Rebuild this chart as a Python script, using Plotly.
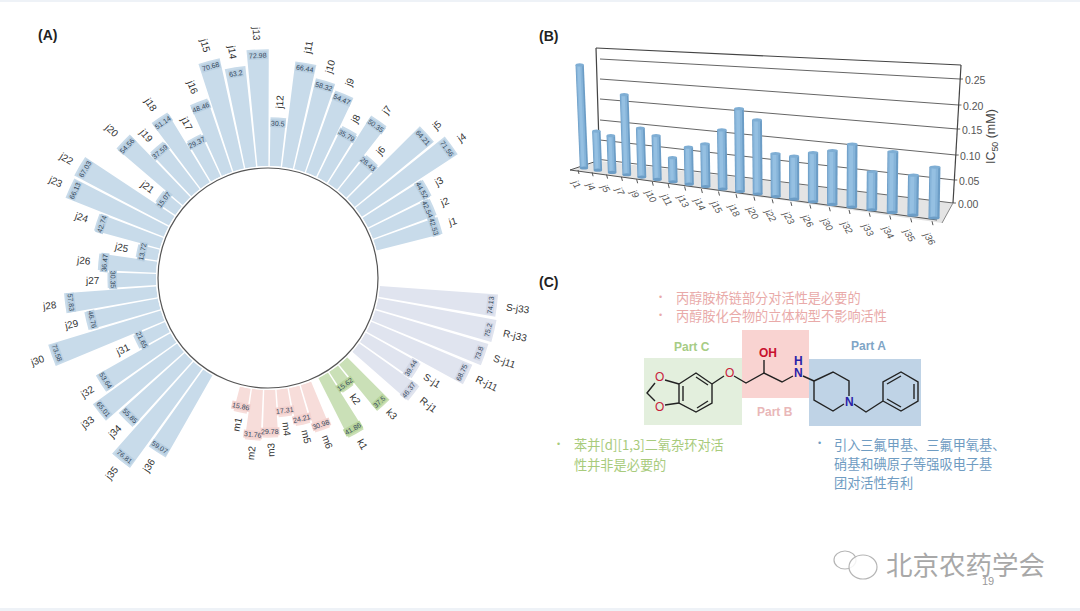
import math
import plotly.graph_objects as go

# ---------- Panel A data ----------
j_names = [f"j{i}" for i in range(1, 37)]
j_values = [42.53, 42.54, 44.52, 71.56, 64.21, 28.43, 50.35, 35.79, 54.47, 58.32, 66.44, 30.5,
            72.98, 63.2, 70.68, 48.46, 29.37, 51.14, 37.59, 54.56, 15.07, 67.03, 66.13, 42.74,
            13.72, 36.47, 30.35, 57.83, 46.76, 73.58, 21.65, 53.64, 65.01, 55.85, 76.81, 59.07]
m_names = ["m1", "m2", "m3", "m4", "m5", "m6"]
m_values = [15.86, 31.76, 29.78, 17.31, 24.21, 30.98]
k_names = ["k1", "k2", "k3"]
k_values = [41.86, 15.62, 37.5]
c_names = ["R-j1", "S-j1", "R-j11", "S-j11", "R-j33", "S-j33"]
c_values = [46.37, 39.44, 68.75, 73.8, 75.2, 74.13]

# ---------- Panel B data ----------
b_names = ["j1", "j4", "j5", "j7", "j9", "j10", "j11", "j13", "j14", "j15", "j18", "j20",
           "j22", "j23", "j26", "j30", "j32", "j33", "j34", "j35", "j36"]
b_values = [0.229, 0.086, 0.080, 0.172, 0.104, 0.092, 0.050, 0.076, 0.087, 0.119, 0.165, 0.146,
            0.084, 0.083, 0.094, 0.102, 0.118, 0.071, 0.112, 0.073, 0.092]
b_ticks = [0.00, 0.05, 0.10, 0.15, 0.20, 0.25]

FONT = "Liberation Sans"
CJK = "Noto Sans CJK SC"
W, H = 1080, 611
fig = go.Figure()
anns, shapes = [], []


def text(x, y, s, size=10, color="#333", angle=0, bg=None, family=FONT, anchor="center"):
    anns.append(dict(x=x, y=y, xref="x", yref="y", text=s, showarrow=False, textangle=angle,
                     xanchor=anchor, yanchor="middle", borderpad=0, bgcolor=bg,
                     font=dict(size=size, color=color, family=family)))


# ---------- Panel A: radial bars ----------
CX, CY, HOLE_PX, V0_PX, SCALE, R_PX = 268, 278, 110, 112, 1.6, 235
STEP, BAR_W = 6.3, 5.6
groups = [(j_names, j_values, "#C8DBEA", "#BAD0E2", 0),
          (m_names, m_values, "#F7DDDA", "#F3D2CF", 3.3),
          (k_names, k_values, "#CAE0B7", "#B9D59D", 1.55),
          (c_names, c_values, "#E0E4EF", "#D3D8E6", 1.5)]
theta = 73.0
for names, values, col, halo, gap in groups:
    theta -= gap * STEP
    thetas = []
    for i, (n, v) in enumerate(zip(names, values)):
        thetas.append(theta)
        th = math.radians(theta)
        ux, uy = math.sin(th), -math.cos(th)
        rend = V0_PX + SCALE * v
        # value label, tangential, at the bar end
        rot_v = ((theta + 90) % 180) - 90
        text(CX + ux * (rend - 6), CY + uy * (rend - 6), f"{v:g}", 7, "#33475B", rot_v, halo)
        # name label, radial, just outside the bar
        t360 = theta % 360
        rot_n = t360 - 90 if t360 < 175 else t360 - 270
        off = 7 + len(n) * 2.8
        text(CX + ux * (rend + off), CY + uy * (rend + off), n, 10, "#333333", rot_n)
        theta -= STEP
    fig.add_trace(go.Barpolar(r=values, theta=thetas, width=[BAR_W] * len(values),
                              marker=dict(color=col, line=dict(width=0)), hoverinfo="skip",
                              subplot="polar"))
    theta += STEP

shapes.append(dict(type="circle", xref="x", yref="y", x0=CX - HOLE_PX, x1=CX + HOLE_PX,
                   y0=CY - HOLE_PX, y1=CY + HOLE_PX, line=dict(color="#555555", width=1.2)))


# ---------- Panel B: pseudo 3D bars ----------
def line(xs, ys, color, width):
    fig.add_trace(go.Scatter(x=xs, y=ys, mode="lines", line=dict(color=color, width=width),
                             hoverinfo="skip", xaxis="x", yaxis="y"))


shapes.append(dict(type="path", path="M600,161 L953,203 L942,223 L570,170 Z", xref="x", yref="y",
                   fillcolor="#E4E4E4", line=dict(width=0), layer="below"))
grid_left = [159.5, 140, 120, 99, 79, 59]
grid_right = [203, 180, 155, 129, 105, 79]
for tv, yl, yr, in zip(b_ticks, grid_left, grid_right):
    xr = 953 + (yr - 203) / (79 - 203) * 7
    line([600, xr], [yl, yr], "#666666", 1)
    line([xr, xr + 3], [yr, yr], "#666666", 1)
    text(xr + 15, yr + 1, f"{tv:.2f}", 10.5, "#555555")
line([596, 961], [48, 65], "#444444", 1.2)
line([596, 599.5], [48, 160], "#444444", 1.2)
line([961, 953], [65, 203], "#444444", 1.2)
line([570, 937], [170, 220], "#555555", 1)
line([570, 600], [170, 160], "#555555", 1)
line([953, 942], [203, 223], "#888888", 1)

for i, (n, v) in enumerate(zip(b_names, b_values)):
    xb = 584 + 13.7 * i + 0.19 * i * i
    yb = 168 + 2.2 * i + 0.015 * i * i
    w = 8.3 + 0.14 * i
    h = v * (450 + 5.2 * i)
    xt = xb + (-0.042 + 0.003 * i) * h
    yt = yb - h
    shapes.append(dict(type="circle", xref="x", yref="y", x0=xb - w / 2, x1=xb + w / 2,
                       y0=yb - 1.6, y1=yb + 1.6, fillcolor="#6C9DC6", line=dict(width=0)))
    line([xb, xt], [yb, yt], "#6C9DC6", w)
    line([xb - 0.06 * w, xt - 0.06 * w], [yb, yt], "#86B4D9", 0.72 * w)
    line([xb - 0.1 * w, xt - 0.1 * w], [yb, yt], "#95C0E2", 0.36 * w)
    shapes.append(dict(type="circle", xref="x", yref="y", x0=xt - w / 2, x1=xt + w / 2,
                       y0=yt - 1.6, y1=yt + 1.6, fillcolor="#7FAED4", line=dict(width=0)))
    # tick + rotated label
    xf, yf = xb - 6 + 0.2 * i, yb + 5 + 0.06 * i
    line([xf, xf + 1], [yf - 3, yf + 1], "#555555", 1)
    lx = xb - 7.5 + 0.17 * i
    ly = yb + 15 + 0.25 * i
    text(lx, ly, f"<i>{n}</i>", 9.5, "#555555", 60)

text(992, 137, "IC<sub>50</sub> (mM)", 12.5, "#444444", -90)

# ---------- Panel letters ----------
text(47, 35, "<b>(A)</b>", 14, "#222222")
text(548, 36, "<b>(B)</b>", 14, "#222222")
text(548, 282, "<b>(C)</b>", 14, "#222222")

# ---------- Panel C: schematic ----------
for x0, x1, y0, y1, col in [(644, 742, 358, 425, "#E3EFDD"), (742, 809, 330, 398, "#F9D3D1"),
                            (809, 921, 359, 426, "#BFD3E6")]:
    shapes.append(dict(type="rect", xref="x", yref="y", x0=x0, x1=x1, y0=y0, y1=y1,
                       fillcolor=col, line=dict(width=0), layer="below"))

bonds = [
    # dioxole
    [(655, 383), (647, 393), (655, 401)], [(665, 380), (679, 384)], [(665, 405), (679, 403)],
    # benzene of benzodioxole
    [(679, 384), (696, 373), (712, 384), (712, 403), (696, 412), (679, 403), (679, 384)],
    [(683, 386), (683, 401)], [(696, 377), (708, 385)], [(697, 408), (708, 401)],
    # linker
    [(712, 384), (724, 376)], [(734, 376), (746, 383), (764, 373), (782, 382), (793, 376)],
    [(764, 373), (764, 360)], [(803, 376), (814, 381)],
    # piperidine
    [(814, 381), (833, 372), (849, 381), (849, 396)], [(844, 404), (833, 411), (814, 400), (814, 381)],
    [(854, 404), (866, 412), (883, 401)],
    # benzene
    [(883, 401), (883, 382), (901, 372), (918, 382), (918, 401), (901, 411), (883, 401)],
    [(887, 384), (901, 376)], [(914, 384), (914, 399)], [(887, 399), (901, 407)],
]
bx, by = [], []
for seg in bonds:
    bx += [p[0] for p in seg] + [None]
    by += [p[1] for p in seg] + [None]
fig.add_trace(go.Scatter(x=bx, y=by, mode="lines", line=dict(color="#222222", width=1.4),
                         hoverinfo="skip", xaxis="x", yaxis="y"))

RED, NAVY = "#C8213A", "#2A22A8"
for x, y, s, c in [(659, 377, "O", RED), (659, 407, "O", RED), (729, 373, "O", RED),
                   (768, 353, "<b>OH</b>", "#C8102E"), (798, 361, "<b>H</b>", NAVY),
                   (798, 373, "<b>N</b>", NAVY), (849, 402, "<b>N</b>", NAVY)]:
    text(x, y, s, 12, c)

text(692, 347, "<b>Part C</b>", 12, "#A6CC85")
text(775, 412, "<b>Part B</b>", 12, "#E9B7B8")
text(868, 346, "<b>Part A</b>", 12, "#7FA5C6")

PINK, GREEN, BLUE = "#E9AAA9", "#A8CB7C", "#6F9CC2"
for x, y, s, c in [(675, 297, "丙醇胺桥链部分对活性是必要的", PINK),
                   (675, 315, "丙醇胺化合物的立体构型不影响活性", PINK),
                   (573, 444, "苯并[d][1,3]二氧杂环对活", GREEN),
                   (573, 464, "性并非是必要的", GREEN),
                   (833, 444, "引入三氟甲基、三氟甲氧基、", BLUE),
                   (833, 463, "硝基和碘原子等强吸电子基", BLUE),
                   (833, 482, "团对活性有利", BLUE)]:
    text(x, y, s, 13.2, c, family=CJK, anchor="left")
for x, y, c in [(660, 297, PINK), (660, 315, PINK), (558, 444, GREEN), (819, 443, BLUE)]:
    text(x, y, "•", 9, c)

# ---------- Watermark and page number ----------
for cx, cy, rx, ry in [(845, 560, 11, 9), (863, 567, 14, 12)]:
    shapes.append(dict(type="circle", xref="x", yref="y", x0=cx - rx, x1=cx + rx, y0=cy - ry, y1=cy + ry,
                       fillcolor="rgba(255,255,255,0.85)", line=dict(color="#B5B5B5", width=1.2)))
text(965, 563, "北京农药学会", 26.5, "#A8A8A8", family=CJK)
text(988, 581, "19", 11, "#999999")

# ---------- Page edge ----------
shapes.append(dict(type="rect", xref="x", yref="y", x0=0, x1=1080, y0=0, y1=2,
                   fillcolor="#EEF2F7", line=dict(width=0), layer="below"))
shapes.append(dict(type="rect", xref="x", yref="y", x0=0, x1=1080, y0=608, y1=611,
                   fillcolor="#EEF2F7", line=dict(width=0), layer="below"))

fig.update_layout(
    width=W, height=H, margin=dict(l=0, r=0, t=0, b=0), showlegend=False,
    paper_bgcolor="white", plot_bgcolor="rgba(0,0,0,0)",
    xaxis=dict(range=[0, W], domain=[0, 1], visible=False, fixedrange=True),
    yaxis=dict(range=[H, 0], domain=[0, 1], visible=False, fixedrange=True),
    polar=dict(
        domain=dict(x=[(CX - R_PX) / W, (CX + R_PX) / W], y=[1 - (CY + R_PX) / H, 1 - (CY - R_PX) / H]),
        hole=V0_PX / R_PX, bgcolor="rgba(0,0,0,0)",
        radialaxis=dict(range=[0, (R_PX - V0_PX) / SCALE], visible=False, showgrid=False),
        angularaxis=dict(direction="clockwise", rotation=90, visible=False, showgrid=False),
        barmode="overlay",
    ),
    annotations=anns, shapes=shapes,
)
fig.write_html("out.html", config=dict(displayModeBar=False),
               post_script="document.body.style.margin='0';document.documentElement.style.overflow='hidden';")
